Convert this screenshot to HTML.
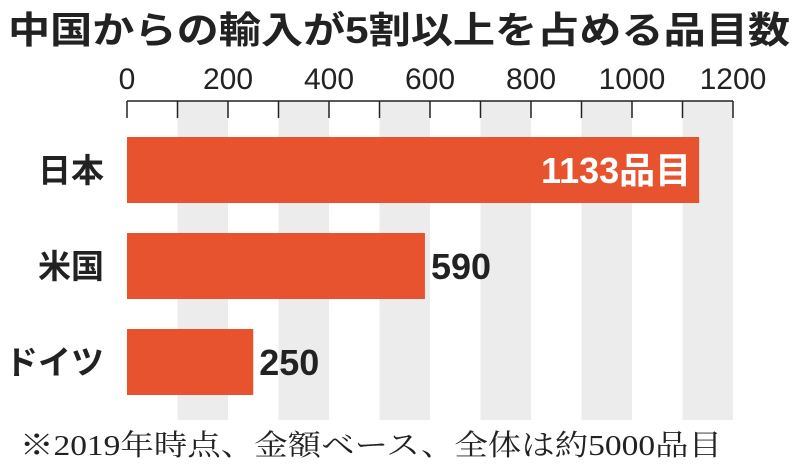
<!DOCTYPE html>
<html><head><meta charset="utf-8"><style>
html,body{margin:0;padding:0;background:#fff;width:800px;height:465px;overflow:hidden}
svg{display:block}
.sans{font-family:"Liberation Sans","Noto Sans CJK JP",sans-serif}
.serif{font-family:"Liberation Serif","Noto Serif CJK SC",serif}
</style></head><body>
<svg id="chart" width="800" height="465">
<text x="8" y="43" class="sans" font-size="37" font-weight="bold" fill="#222" textLength="782" lengthAdjust="spacingAndGlyphs">中国からの輸入が5割以上を占める品目数</text>
<g id="bands"></g>
<g id="axis"></g>
<g id="bars"></g>
<text x="20" y="455" class="serif" font-size="29" fill="#222" textLength="702" lengthAdjust="spacingAndGlyphs">※2019年時点、金額ベース、全体は約5000品目</text>
</svg>
<script>
const categories = ["日本", "米国", "ドイツ"];
const values = [1133, 590, 250];
const valueLabels = ["1133品目", "590", "250"];
const ticks = [0, 200, 400, 600, 800, 1000, 1200];

const NS = "http://www.w3.org/2000/svg";
const x0 = 127, scale = 0.505;
const xs = v => x0 + v * scale;
const rowTop = [137, 233, 329], barH = 66;
const axisY = 101, bandBottom = 420;
function mk(tag, attrs, parent) {
  const e = document.createElementNS(NS, tag);
  for (const k in attrs) e.setAttribute(k, attrs[k]);
  parent.appendChild(e);
  return e;
}
const bands = document.getElementById('bands');
const axis = document.getElementById('axis');
const bars = document.getElementById('bars');
for (let i = 0; i < ticks.length - 1; i++) {
  const mid = (ticks[i] + ticks[i + 1]) / 2;
  const r = mk('rect', {x: xs(mid), y: axisY, width: xs(ticks[i + 1]) - xs(mid), height: bandBottom - axisY, fill: '#ececec'}, bands);
  
  
}
const al = mk('line', {x1: xs(0), x2: xs(1200), y1: axisY, y2: axisY, stroke: '#222', 'stroke-width': 1.5}, axis);


for (let v = 0; v <= 1200; v += 100) {
  const t = mk('line', {x1: xs(v), x2: xs(v), y1: axisY, y2: axisY + 17, stroke: '#222', 'stroke-width': 1.5}, axis);
  
  
}
ticks.forEach(v => {
  const t = mk('text', {x: xs(v), y: 89, 'text-anchor': 'middle', 'font-size': 30, fill: '#222', class: 'sans'}, axis);
  t.textContent = v;
  
  
});
categories.forEach((c, i) => {
  const y = rowTop[i];
  const b = mk('rect', {x: xs(0), y: y, width: xs(values[i]) - xs(0), height: barH, fill: '#e8532f'}, bars);
  
  
  const l = mk('text', {x: 104, y: y + barH / 2 + 12, 'text-anchor': 'end', 'font-size': 33, 'font-weight': 'bold', fill: '#222', class: 'sans'}, bars);
  l.textContent = c;
  
  
  const inside = i === 0;
  const v = mk('text', {x: inside ? xs(values[i]) - 8 : xs(values[i]) + 6, y: y + barH / 2 + 13, 'text-anchor': inside ? 'end' : 'start', 'font-size': 36, 'font-weight': 'bold', fill: inside ? '#fff' : '#222', class: 'sans'}, bars);
  v.textContent = valueLabels[i];
  
  
});
</script>
</body></html>
